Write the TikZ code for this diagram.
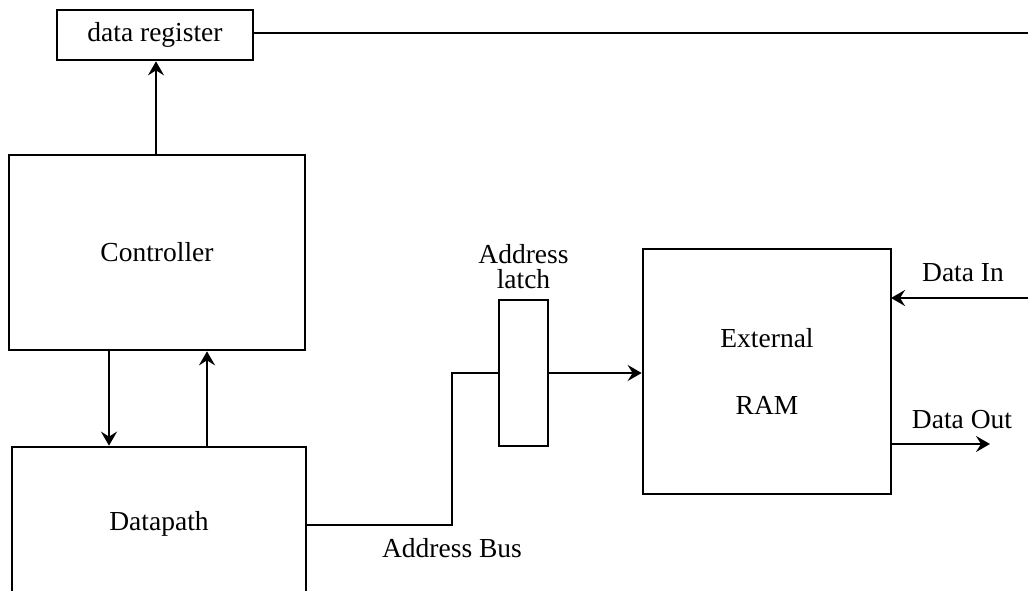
\documentclass[tikz,border=0pt]{standalone}
\usepackage{fontspec}
\setmainfont{Liberation Serif}
\usetikzlibrary{arrows.meta}
\begin{document}
\begin{tikzpicture}[x=1pt,y=-1pt,
  every node/.style={font=\fontsize{27.5}{25}\selectfont},
  blk/.style={draw,line width=2.7pt,rectangle,inner sep=0pt},
  wire/.style={line width=2.7pt},
  arr/.style={line width=2.7pt,-{Stealth[length=14pt,width=16pt,inset=5pt]}},
  lbl/.style={inner sep=0pt,align=center}]
\clip (0,0) rectangle (1028,591);
\useasboundingbox (0,0) rectangle (1028,591);
\fill[white] (0,0) rectangle (1028,591);

\node[blk,minimum width=196pt,minimum height=50pt] (dreg) at (155,35) {data register};
\node[blk,minimum width=296pt,minimum height=195pt] (ctrl) at (157,252.5) {Controller};
\node[blk,minimum width=294pt,minimum height=153pt] (dp) at (159,523.5) {Datapath};
\node[blk,minimum width=49pt,minimum height=146pt] (latch) at (523.5,373) {};
\node[lbl] (latchlbl) at (523.5,267) {Address\\latch};
\node[blk,minimum width=248pt,minimum height=245pt,align=center] (ram) at (767,371.5) {External\\[42pt]RAM};

\coordinate (regend) at (1028,33);
\coordinate (busturn1) at (452,525);
\coordinate (busturn2) at (452,373);
\coordinate (din) at (1028,298);
\coordinate (dinend) at (891,298);
\coordinate (doutstart) at (891,444);
\coordinate (dout) at (990,444);

\draw[wire] (dreg.east |- regend) -- (regend);
\draw[arr] (ctrl.north -| 156,0) -- (dreg.south -| 156,0);
\draw[arr] (ctrl.south -| 109,0) -- (dp.north -| 109,0);
\draw[arr] (dp.north -| 207,0) -- (ctrl.south -| 207,0);
\draw[wire] (dp.east |- busturn1) -- (busturn1) -- (busturn2) -- (latch.west);
\draw[arr] (latch.east) -- (ram.west |- latch.east);
\draw[arr] (din) -- (dinend);
\draw[arr] (doutstart) -- (dout);

\node[lbl] (buslbl) at (452,548) {Address Bus};
\node[lbl] (dinlbl) at (963,273) {Data In};
\node[lbl] (doutlbl) at (962,420) {Data Out};
\end{tikzpicture}
\end{document}
